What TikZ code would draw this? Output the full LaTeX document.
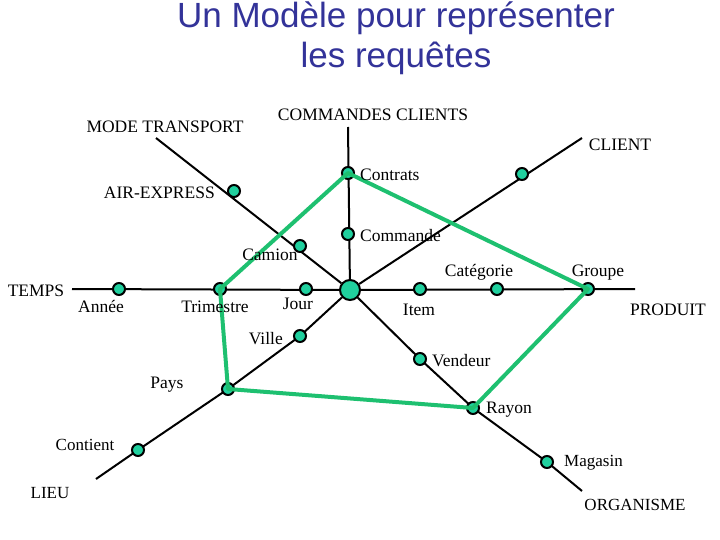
\documentclass[tikz,border=0pt]{standalone}
\usepackage{fontspec}
\setmainfont{Liberation Serif}
\newfontfamily\titlefont{Liberation Sans}
\usetikzlibrary{backgrounds}
\definecolor{nodefill}{RGB}{32,208,158}
\definecolor{pathgreen}{RGB}{30,192,112}
\definecolor{titleblue}{RGB}{51,51,153}
\begin{document}
\begin{tikzpicture}[x=1pt,y=-1pt,
  dot/.style={circle,draw=black,line width=2pt,fill=nodefill,inner sep=0pt,minimum size=12pt},
  bigdot/.style={dot,minimum size=20pt},
  axisline/.style={line width=2pt,black},
  lbl/.style={font=\fontsize{17.5}{19}\selectfont,inner sep=0pt},
  slbl/.style={font=\fontsize{17}{19}\selectfont,inner sep=0pt},
  ttl/.style={font=\titlefont\fontsize{35}{38}\selectfont,text=titleblue,inner sep=0pt},
  route/.style={line width=4pt,pathgreen,line join=round}]
\useasboundingbox (0,0) rectangle (720,540);
% title
\node[ttl] (t1) at (396,18) {Un Modèle pour représenter};
\node[ttl] (t2) at (396,58) {les requêtes};
% axis ends
\coordinate (tempsend) at (72,289);
\coordinate (produitend) at (635,289);
\coordinate (ccend) at (348,127);
\coordinate (mtend) at (156,138);
\coordinate (clend) at (582,138);
\coordinate (lieuend) at (96,479);
\coordinate (orgend) at (582,491);
% points
\node[bigdot] (c) at (350,290) {};
\node[dot] (annee) at (119,289) {};
\node[dot] (trim) at (220,289) {};
\node[dot] (jour) at (306,289) {};
\node[dot] (item) at (420,289) {};
\node[dot] (categ) at (497,289) {};
\node[dot] (groupe) at (588,289) {};
\node[dot] (contrats) at (348,173) {};
\node[dot] (commande) at (348,234) {};
\node[dot] (air) at (234,191) {};
\node[dot] (camion) at (300,246) {};
\node[dot] (client) at (522,174) {};
\node[dot] (ville) at (300,336) {};
\node[dot] (pays) at (228,389) {};
\node[dot] (contient) at (138,450) {};
\node[dot] (vendeur) at (420,359) {};
\node[dot] (rayon) at (473,408) {};
\node[dot] (magasin) at (547,462) {};
% axes
\begin{pgfonlayer}{background}
\draw[axisline] (tempsend) -- (c) -- (produitend);
\draw[axisline] (ccend) -- (c);
\draw[axisline] (mtend) -- (c);
\draw[axisline] (clend) -- (c);
\draw[axisline] (c) -- (ville.center) -- (pays.center) -- (contient.center) -- (lieuend);
\draw[axisline] (c) -- (vendeur.center) -- (rayon.center) -- (magasin.center) -- (orgend);
\end{pgfonlayer}
% query route
\draw[route] (contrats.center) -- (groupe.center) -- (rayon.center) -- (pays.center) -- (trim.center) -- cycle;
% dimension labels
\node[lbl] (ltemps) at (36,291) {TEMPS};
\node[lbl] (lmt) at (165,127) {MODE TRANSPORT};
\node[lbl] (lcc) at (373,115) {COMMANDES CLIENTS};
\node[lbl] (lclient) at (620,145) {CLIENT};
\node[lbl] (lproduit) at (668,310) {PRODUIT};
\node[slbl] (llieu) at (50,493) {LIEU};
\node[slbl] (lorg) at (635,505) {ORGANISME};
% member labels
\node[lbl,anchor=east] (lair) at (215,193) {AIR-EXPRESS};
\node[lbl,anchor=west] (lcontrats) at (360,175) {Contrats};
\node[lbl,anchor=west] (lcommande) at (360,236) {Commande};
\node[lbl] (lcamion) at (270,255) {Camion};
\node[lbl] (lcateg) at (479,272) {Catégorie};
\node[lbl] (lgroupe) at (598,273) {Groupe};
\node[lbl] (lannee) at (101,307) {Année};
\node[lbl] (ltrim) at (215,307) {Trimestre};
\node[lbl] (ljour) at (298,304) {Jour};
\node[lbl] (litem) at (419,310) {Item};
\node[lbl,anchor=east] (lville) at (283,339) {Ville};
\node[lbl] (lpays) at (167,385) {Pays};
\node[lbl,anchor=west] (lvendeur) at (432,361) {Vendeur};
\node[lbl,anchor=west] (lrayon) at (486,410) {Rayon};
\node[slbl] (lcontient) at (85,445) {Contient};
\node[slbl,anchor=west] (lmagasin) at (564,463) {Magasin};
\end{tikzpicture}
\end{document}
